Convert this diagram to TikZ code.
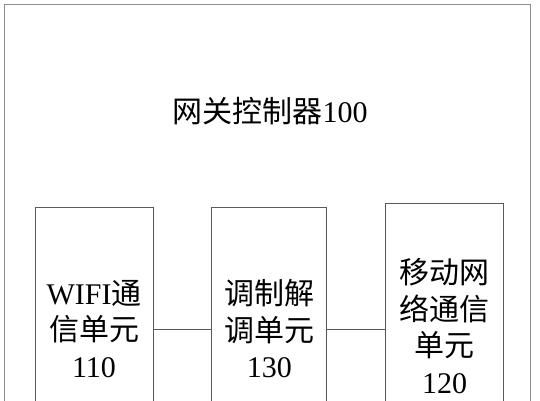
\documentclass[tikz,border=0pt]{standalone}
\usepackage{fontspec}
\setmainfont{Liberation Serif}
\newfontfamily\cjk{Noto Sans CJK SC}
\usetikzlibrary{positioning}
\tikzset{
    x=1pt, y=1pt,
    node distance=58pt, % gap between the unit boxes
    unit/.style={ % inner units of the gateway
        draw=black!65,
        line width=0.8pt,
        minimum width=118pt,
        minimum height=244pt,
        align=center,
        font=\fontsize{30}{36.5}\selectfont
    },
    outer/.style={
        draw=black!45,
        line width=0.8pt,
        minimum width=526pt,
        minimum height=520pt
    },
    link/.style={ % plain connectors
        draw=black!65,
        line width=0.8pt
    },
}

\begin{document}
\begin{tikzpicture}
            \useasboundingbox (0,0) rectangle (540,400);
            \clip (0,0) rectangle (540,400);
            \node[outer, anchor=north west] (gw) at (4,396) {};
            \node[font=\fontsize{30}{36}\selectfont] (title) at (270,289)
                    {{\cjk 网关控制器}100};
            \node[unit] (wifi) at (94,71)
                    {WIFI{\cjk 通}\\{\cjk 信单元}\\110};
            \node[unit, minimum width=115pt, right=58pt of wifi] (mod)
                    {{\cjk 调制解}\\{\cjk 调单元}\\130};
            \node[unit, minimum height=246pt, right=58pt of mod, yshift=3pt] (mob)
                    {{\cjk 移动网}\\{\cjk 络通信}\\{\cjk 单元}\\120};
            \draw[link] (wifi) -- (mod);
            \draw[link] (mod) -- (mob.west |- mod);
\end{tikzpicture}
\end{document}
